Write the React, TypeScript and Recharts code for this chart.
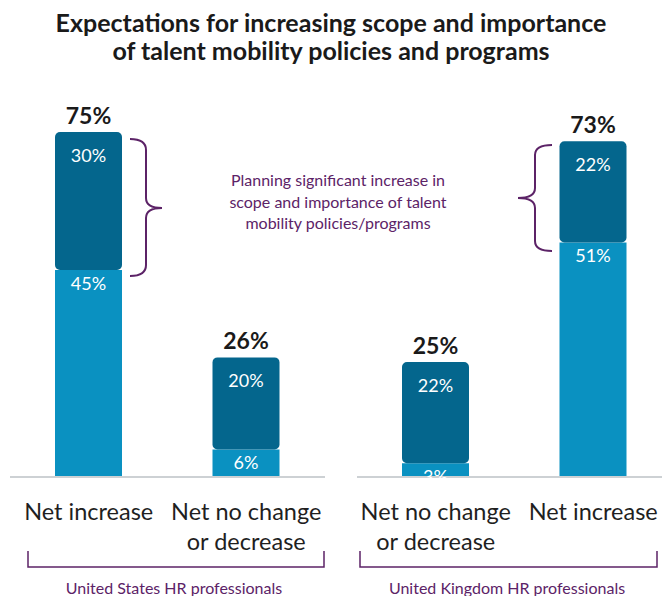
import { BarChart, Bar, XAxis, YAxis, LabelList } from 'recharts';

const usCategories = ['Net increase', 'Net no change\nor decrease'];
const usBase = [45, 6];
const usUpper = [30, 20];
const usTotal = [75, 26];

const ukCategories = ['Net no change\nor decrease', 'Net increase'];
const ukBase = [3, 51];
const ukUpper = [22, 22];
const ukTotal = [25, 73];

const DARK = '#04668D';
const LIGHT = '#0A91C1';
const PURPLE = '#5C2367';
const FONT = 'Lato, sans-serif';

const usData = usCategories.map((name, i) => ({
  name,
  base: usBase[i],
  upper: usUpper[i],
  total: usTotal[i],
}));
const ukData = ukCategories.map((name, i) => ({
  name,
  base: ukBase[i],
  upper: ukUpper[i],
  total: ukTotal[i],
}));

const pct = (v: any) => `${v}%`;

function CategoryTick(props: any) {
  const { x, y, payload } = props;
  const lines = String(payload.value).split('\n');
  return (
    <text x={x} y={y + 35} textAnchor="middle" fontSize={23.5} fill="#1f1f1f" fontFamily={FONT}>
      {lines.map((line, i) => (
        <tspan key={i} x={x} dy={i === 0 ? 0 : 30}>
          {line}
        </tspan>
      ))}
    </text>
  );
}

function Panel({ data, left }: { data: any[]; left: number }) {
  return (
    <div style={{ position: 'absolute', left, top: 0 }}>
      <BarChart
        width={315}
        height={596}
        data={data}
        margin={{ top: 17, right: 0, bottom: 0, left: 0 }}
        barSize={67}
      >
        <XAxis
          dataKey="name"
          height={119}
          interval={0}
          tickLine={false}
          axisLine={{ stroke: '#cdd1d4', strokeWidth: 2 }}
          tick={<CategoryTick />}
        />
        <YAxis hide domain={[0, 100]} />
        <Bar dataKey="base" stackId="a" fill={LIGHT} isAnimationActive={false}>
          <LabelList
            dataKey="base"
            position="insideTop"
            offset={7}
            formatter={pct}
            fill="#ffffff"
            fontSize={18}
            fontFamily={FONT}
          />
        </Bar>
        <Bar dataKey="upper" stackId="a" fill={DARK} radius={5} isAnimationActive={false}>
          <LabelList
            dataKey="upper"
            position="insideTop"
            offset={17}
            formatter={pct}
            fill="#ffffff"
            fontSize={18}
            fontFamily={FONT}
          />
          <LabelList
            dataKey="total"
            position="top"
            offset={8}
            formatter={pct}
            fill="#1a1a1a"
            fontSize={23}
            fontWeight="bold"
            fontFamily={FONT}
          />
        </Bar>
      </BarChart>
    </div>
  );
}

export default function App() {
  return (
    <div
      style={{
        position: 'absolute',
        left: 0,
        top: 0,
        width: 662,
        height: 596,
        overflow: 'hidden',
        background: '#ffffff',
        fontFamily: FONT,
      }}
    >
      <Panel data={usData} left={10} />
      <Panel data={ukData} left={357} />
      <svg
        width={662}
        height={596}
        style={{ position: 'absolute', left: 0, top: 0, pointerEvents: 'none' }}
      >
        <text x={331} y={22} textAnchor="middle" dominantBaseline="central" fontSize={25} fontWeight="bold" fill="#1a1a1a" fontFamily={FONT}>
          Expectations for increasing scope and importance
        </text>
        <text x={331} y={50} textAnchor="middle" dominantBaseline="central" fontSize={25} fontWeight="bold" fill="#1a1a1a" fontFamily={FONT}>
          of talent mobility policies and programs
        </text>

        {/* braces around the "significant increase" segments */}
        <path
          d="M130 139 Q146 139 146 150 L146 198 Q146 208 162 208 Q146 208 146 218 L146 265 Q146 276 130 276"
          fill="none"
          stroke={PURPLE}
          strokeWidth={2}
        />
        <path
          d="M552 145 Q535 145 535 155 L535 188 Q535 198 518 198 Q535 198 535 208 L535 241 Q535 251 552 251"
          fill="none"
          stroke={PURPLE}
          strokeWidth={2}
        />
        <text textAnchor="middle" fontSize={16} fill={PURPLE} fontFamily={FONT} dominantBaseline="central">
          <tspan x={338} y={179}>Planning significant increase in</tspan>
          <tspan x={338} y={201}>scope and importance of talent</tspan>
          <tspan x={338} y={222}>mobility policies/programs</tspan>
        </text>

        {/* group brackets */}
        <path d="M28 551 L28 567 L324 567 L324 551" fill="none" stroke={PURPLE} strokeWidth={1.5} />
        <path d="M360 551 L360 567 L657 567 L657 551" fill="none" stroke={PURPLE} strokeWidth={1.5} />
        <text x={174} y={587} textAnchor="middle" dominantBaseline="central" fontSize={16} fill={PURPLE} fontFamily={FONT}>
          United States HR professionals
        </text>
        <text x={507} y={587} textAnchor="middle" dominantBaseline="central" fontSize={16} fill={PURPLE} fontFamily={FONT}>
          United Kingdom HR professionals
        </text>
      </svg>
    </div>
  );
}
